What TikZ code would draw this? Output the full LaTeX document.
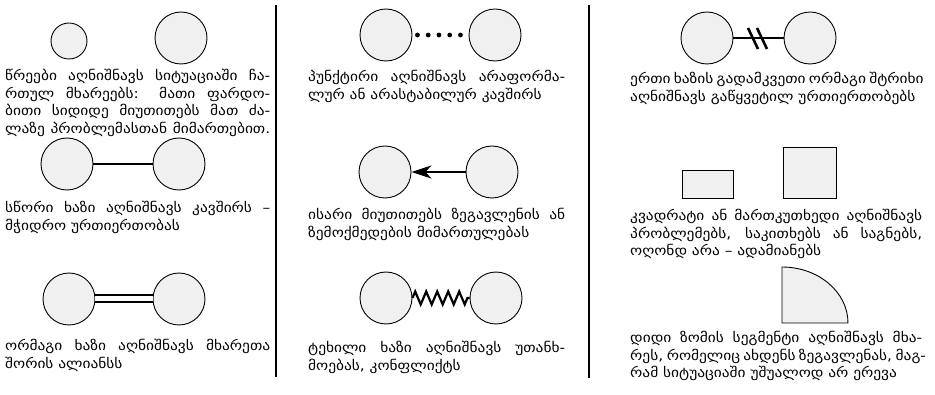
\documentclass[tikz,border=0pt]{standalone}
\usepackage{fontspec}
\setmainfont{DejaVu Sans}[FakeStretch=1.14]
\usetikzlibrary{arrows.meta,decorations.pathmorphing}
\newcommand\fla[1]{\hbox to 265pt{#1}}
\newcommand\flb[1]{\hbox to 257pt{#1}}
\newcommand\flc[1]{\hbox to 292pt{#1}}
\newcommand\lastl[1]{\hbox{#1}}
\tikzset{
  x={(1pt,0)}, y={(0,-1pt)},
  party/.style={circle, draw, line width=0.9pt, fill=black!6, minimum size=#1, inner sep=0pt},
  party/.default=52pt,
  box/.style={draw, line width=0.9pt, fill=black!6},
  txt/.style={anchor=base west, inner sep=0pt, font=\fontsize{13.5}{17.4}\selectfont},
  divider/.style={line width=1.2pt},
  solidlink/.style={line width=2.6pt},
  doublelink/.style={double, double distance=5pt, line width=2pt},
  dotlink/.style={line width=4.8pt, line cap=round, dash pattern=on 0pt off 10.75pt, shorten <=5pt, shorten >=5pt},
  arrowlink/.style={line width=2.2pt, -{Stealth[length=20pt,width=13pt,inset=6pt]}},
  conflictlink/.style={line width=2.2pt, decorate, decoration={zigzag, amplitude=6.5pt, segment length=11pt}},
  hatchlink/.style={line width=1.4pt},
  hatchmark/.style={line width=2.6pt},
}
\begin{document}
\begin{tikzpicture}
\useasboundingbox (0,0) rectangle (935,395);
% dividers
\coordinate (d1a) at (276,5); \coordinate (d1b) at (276,377);
\coordinate (d2a) at (589,5); \coordinate (d2b) at (589,378);
\draw[divider] (d1a) -- (d1b);
\draw[divider] (d2a) -- (d2b);

% ---------- column 1 ----------
\node[party=36pt] (c1s) at (69,41) {};
\node[party] (c1l) at (181,38) {};
\node[txt] (t1) at (5,81) {\vtop{\baselineskip=17.4pt
  \fla{წრეები აღნიშნავს სიტუაციაში ჩა-}
  \fla{რთულ მხარეებს: მათი ფარდო-}
  \fla{ბითი სიდიდე მიუთითებს მათ ძა-}
  \fla{ლაზე პრობლემასთან მიმართებით.}}};

\node[party] (c2a) at (67,164) {};
\node[party] (c2b) at (179,164) {};
\draw[solidlink] (c2a) -- (c2b);
\node[txt] (t2) at (5,213) {\vtop{\baselineskip=17.4pt
  \fla{სწორი ხაზი აღნიშნავს კავშირს –}
  \lastl{მჭიდრო ურთიერთობას}}};

\node[party] (c3a) at (69,299) {};
\node[party] (c3b) at (179,299) {};
\draw[doublelink] (c3a) -- (c3b);
\node[txt] (t3) at (5,351) {\vtop{\baselineskip=17.4pt
  \fla{ორმაგი ხაზი აღნიშნავს მხარეთა}
  \lastl{შორის ალიანსს}}};

% ---------- column 2 ----------
\node[party] (c4a) at (386,35) {};
\node[party] (c4b) at (495,35) {};
\draw[dotlink] (c4a) -- (c4b);
\node[txt] (t4) at (308,82) {\vtop{\baselineskip=17.4pt
  \flb{პუნქტირი აღნიშნავს არაფორმა-}
  \lastl{ლურ ან არასტაბილურ კავშირს}}};

\node[party] (c5a) at (385,172) {};
\node[party] (c5b) at (492,172) {};
\draw[arrowlink] (c5b) -- (c5a);
\node[txt] (t5) at (308,220) {\vtop{\baselineskip=17.4pt
  \flb{ისარი მიუთითებს ზეგავლენის ან}
  \lastl{ზემოქმედების მიმართულებას}}};

\node[party] (c6a) at (386,298) {};
\node[party] (c6b) at (496,298) {};
\draw[conflictlink] (c6a) -- (c6b);
\node[txt] (t6) at (308,353) {\vtop{\baselineskip=17.4pt
  \flb{ტეხილი ხაზი აღნიშნავს უთანხ-}
  \lastl{მოებას, კონფლიქტს}}};

% ---------- column 3 ----------
\node[party] (c7a) at (707,38) {};
\node[party] (c7b) at (810,38) {};
\draw[hatchlink] (c7a) -- (c7b);
\coordinate (h1a) at (748,28); \coordinate (h1b) at (758,49);
\coordinate (h2a) at (757,28); \coordinate (h2b) at (767,49);
\draw[hatchmark] (h1a) -- (h1b);
\draw[hatchmark] (h2a) -- (h2b);
\node[txt] (t7) at (630,84) {\vtop{\baselineskip=17.4pt
  \flc{ერთი ხაზის გადამკვეთი ორმაგი შტრიხი}
  \lastl{აღნიშნავს გაწყვეტილ ურთიერთობებს}}};

\draw[box] (682,170) rectangle (733,198);
\draw[box] (783,147) rectangle (836,198);
\node[txt] (t8) at (630,221) {\vtop{\baselineskip=17.4pt
  \flc{კვადრატი ან მართკუთხედი აღნიშნავს}
  \flc{პრობლემებს, საკითხებს ან საგნებს,}
  \lastl{ოღონდ არა – ადამიანებს}}};

\coordinate (qc) at (782,323);
\draw[box] (qc) -- (782,267) arc[start angle=90, end angle=0, x radius=66pt, y radius=56pt] -- cycle;
\node[txt] (t9) at (630,343) {\vtop{\baselineskip=17.4pt
  \flc{დიდი ზომის სეგმენტი აღნიშნავს მხა-}
  \flc{რეს, რომელიც ახდენს ზეგავლენას, მაგ-}
  \lastl{რამ სიტუაციაში უშუალოდ არ ერევა}}};
\end{tikzpicture}
\end{document}
